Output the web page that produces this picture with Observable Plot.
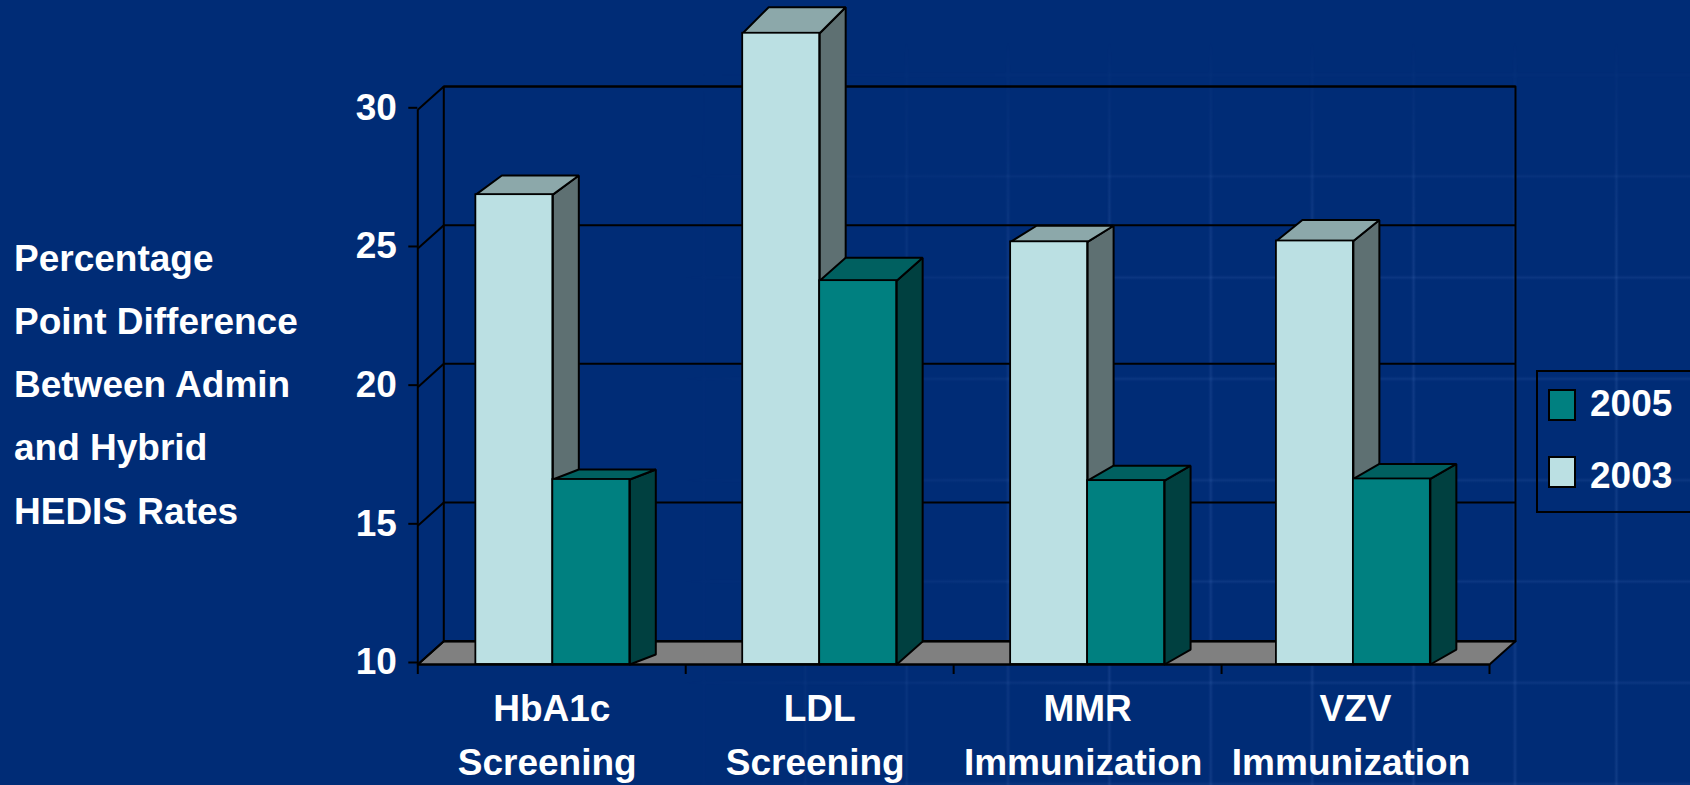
<!DOCTYPE html>
<html>
<head>
<meta charset="utf-8">
<title>Percentage point difference between admin and hybrid HEDIS rates</title>
<script src="https://cdn.jsdelivr.net/npm/d3@7"></script>
<script src="https://cdn.jsdelivr.net/npm/@observablehq/plot@0.6"></script>
<style>
  html, body { margin: 0; padding: 0; width: 1690px; height: 785px; overflow: hidden; background: #002c76; }
  body { position: relative; font-family: "Liberation Sans", Arial, sans-serif; font-weight: 700; color: #fff; }
  /* faint woven plaid of the slide background, fading out towards the upper left */
  .weave-x { position: absolute; inset: 0;
    -webkit-mask-image: linear-gradient(90deg, transparent 680px, #000 1100px);
            mask-image: linear-gradient(90deg, transparent 680px, #000 1100px); }
  .weave-y { position: absolute; inset: 0;
    background-image:
      linear-gradient(90deg, transparent 0, rgba(86,128,205,.17) 2.5px, transparent 5px),
      linear-gradient(180deg, transparent 0, rgba(86,128,205,.13) 2.5px, transparent 5px);
    background-size: 101.4px 100%, 100% 101.3px;
    background-position: 93px 0, 0 72.5px;
    -webkit-mask-image: linear-gradient(180deg, transparent 40px, #000 240px);
            mask-image: linear-gradient(180deg, transparent 40px, #000 240px); }
  svg.chart { position: absolute; left: 0; top: 0; }
  .side-label { position: absolute; left: 14px; font-size: 37px; line-height: 37px; white-space: nowrap; }
  .legend { position: absolute; left: 1536px; top: 369.5px; width: 154px; height: 143px; box-sizing: border-box;
    border: 2px solid #000; border-right: none; }
  .swatch { position: absolute; left: 1548px; width: 28px; height: 32px; box-sizing: border-box; border: 2px solid #000; }
  .legend-text { position: absolute; left: 1590px; font-size: 37px; line-height: 37px; }
</style>
</head>
<body>
<div class="weave-x"><div class="weave-y"></div></div>
<script>
// Categories and the two measurement years
const categories = ["HbA1c", "LDL", "MMR", "VZV"];
const categoryKinds = ["Screening", "Screening", "Immunization", "Immunization"];
const values2003 = [26.94, 32.76, 25.24, 25.27];
const values2005 = [16.67, 23.84, 16.63, 16.69];

// How far each bar's top rises in the receding direction, in y units
const rise2003 = [0.69, 0.94, 0.58, 0.76];
const rise2005 = [0.36, 0.83, 0.54, 0.54];

// Axis ticks and the side description
const yTicks = [10, 15, 20, 25, 30];
const sideLines = ["Percentage", "Point Difference", "Between Admin", "and Hybrid", "HEDIS Rates"];
const legendEntries = [["2005", "#008080"], ["2003", "#bbe0e3"]];

// Shape of the oblique box: bar width, group centres and wall offset, in scale units
const barSpan = 0.2873;
const groupCentres = [0.504, 1.5, 2.5, 3.492];
const depthX = 0.097;
const wallRise = 0.84;
const floorValue = 10;
const categorySlots = d3.range(categories.length + 1);
const categoryCentres = categories.map((_, i) => i + 0.5);

// Builds the closed side and top outlines of one series of bars
function bars(values, rises, leftOffset) {
  return values.map((v, i) => ({
    v, rise: rises[i],
    xl: groupCentres[i] + leftOffset,
    xr: groupCentres[i] + leftOffset + barSpan
  }));
}
const sidePoints = (rows) => rows.flatMap((b, id) => [
  [b.xr, floorValue], [b.xr + depthX, floorValue + b.rise], [b.xr + depthX, b.v + b.rise], [b.xr, b.v], [b.xr, floorValue]
].map(([x, y]) => ({id, x, y})));
const topPoints = (rows) => rows.flatMap((b, id) => [
  [b.xl, b.v], [b.xl + depthX, b.v + b.rise], [b.xr + depthX, b.v + b.rise], [b.xr, b.v], [b.xl, b.v]
].map(([x, y]) => ({id, x, y})));

const bars2003 = bars(values2003, rise2003, -barSpan);
const bars2005 = bars(values2005, rise2005, 0);

const n = categories.length;
const wallTop = yTicks[yTicks.length - 1] + wallRise;
const wallBottom = floorValue + wallRise;
const floorOutline = [[0, floorValue], [depthX, wallBottom], [n + depthX, wallBottom], [n, floorValue], [0, floorValue]]
  .map(([x, y]) => ({x, y}));
const wallOutline = [[depthX, wallTop], [n + depthX, wallTop], [n + depthX, wallBottom], [depthX, wallBottom], [depthX, wallTop]]
  .map(([x, y]) => ({x, y}));

const seriesMarks = (rows, front, top, side) => [
  Plot.line(sidePoints(rows), {x: "x", y: "y", z: "id", fill: side, stroke: "#000", strokeWidth: 2, strokeLinejoin: "miter"}),
  Plot.line(topPoints(rows), {x: "x", y: "y", z: "id", fill: top, stroke: "#000", strokeWidth: 2, strokeLinejoin: "miter"}),
  Plot.rect(rows, {x1: "xl", x2: "xr", y1: () => floorValue, y2: "v", fill: front, stroke: "#000", strokeWidth: 1.8})
];

const chart = Plot.plot({
  className: "chart",
  width: 1690,
  height: 785,
  marginLeft: 417.3,
  marginRight: 201,
  marginTop: 109.3,
  marginBottom: 121,
  x: {type: "linear", domain: [0, n], axis: null},
  y: {type: "linear", domain: [10, 30], axis: null},
  style: {
    background: "transparent",
    fontFamily: "'Liberation Sans', Arial, sans-serif",
    fontWeight: 700,
    fontSize: "37px",
    overflow: "visible"
  },
  marks: [
    // floor and back wall
    Plot.line(floorOutline, {x: "x", y: "y", fill: "#808080", stroke: "#000", strokeWidth: 2}),
    Plot.line(wallOutline, {x: "x", y: "y", stroke: "#000", strokeWidth: 2}),
    // gridlines running along the wall and down its receding side
    Plot.link(yTicks, {x1: depthX, x2: n + depthX, y1: (d) => d + wallRise, y2: (d) => d + wallRise, stroke: "#000", strokeWidth: 2}),
    Plot.link(yTicks, {x1: 0, x2: depthX, y1: (d) => d, y2: (d) => d + wallRise, stroke: "#000", strokeWidth: 2}),
    // front vertical axis
    Plot.ruleX([0], {y1: 10, y2: 30, stroke: "#000", strokeWidth: 2}),
    Plot.axisY({
      ticks: yTicks, tickSize: 9, tickPadding: 12, stroke: "#000", strokeWidth: 2, fill: "#fff",
      dy: -2, label: null, tickFormat: (d) => `${d}`
    }),
    // bars, back series first
    ...seriesMarks(bars2003, "#bbe0e3", "#8ca8aa", "#5e7072"),
    ...seriesMarks(bars2005, "#008080", "#006060", "#004040"),
    // front horizontal axis
    Plot.ruleY([floorValue], {x1: 0, x2: n, stroke: "#000", strokeWidth: 2}),
    Plot.ruleX(categorySlots, {x: (d) => d, y1: 10, y2: 9.64, stroke: "#000", strokeWidth: 2}),
    // two-line category labels
    Plot.axisX({
      ticks: categoryCentres, tickSize: 0, tickPadding: 30, fill: "#fff", label: null,
      tickFormat: (d) => categories[Math.floor(d)]
    }),
    Plot.axisX({
      ticks: categoryCentres, tickSize: 0, tickPadding: 84.7, dx: -4.5, fill: "#fff", label: null,
      tickFormat: (d) => categoryKinds[Math.floor(d)]
    })
  ]
});
document.body.append(chart);

// Side description
const sideBaselines = [272, 335, 398, 461, 525];
sideLines.forEach((text, i) => {
  const div = document.createElement("div");
  div.className = "side-label";
  div.style.top = `${sideBaselines[i] - 32}px`;
  div.textContent = text;
  document.body.append(div);
});

// Legend box, open at the slide's right edge
const legendBox = document.createElement("div");
legendBox.className = "legend";
document.body.append(legendBox);
legendEntries.forEach(([label, colour], i) => {
  const swatch = document.createElement("div");
  swatch.className = "swatch";
  swatch.style.top = `${388.5 + i * 67.5}px`;
  swatch.style.background = colour;
  document.body.append(swatch);
  const text = document.createElement("div");
  text.className = "legend-text";
  text.style.top = `${385 + i * 71.5}px`;
  text.textContent = label;
  document.body.append(text);
});
</script>
</body>
</html>
